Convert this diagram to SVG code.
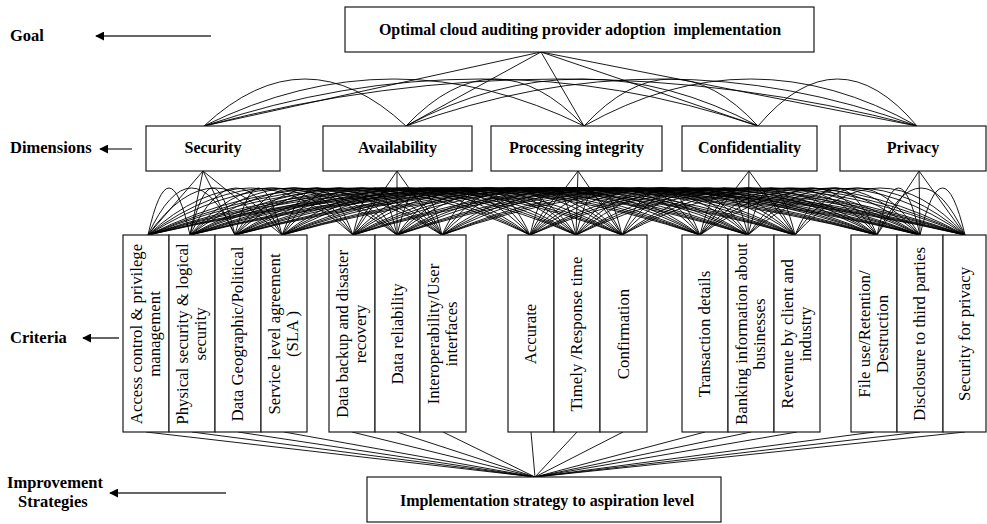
<svg xmlns="http://www.w3.org/2000/svg" width="987" height="524" viewBox="0 0 987 524">
<defs>
<style>
.box{fill:#fff;stroke:#1a1a1a;stroke-width:1.2}
.ln{fill:none;stroke:#000;stroke-width:0.9}
.ar{fill:none;stroke:#333;stroke-width:1.3}
.lbl{font-family:"Liberation Serif",serif;font-weight:bold;font-size:16.5px;fill:#000}
.hd{font-family:"Liberation Serif",serif;font-weight:bold;font-size:16px;fill:#000;text-anchor:middle}
.cr{font-family:"Liberation Serif",serif;font-size:16.8px;fill:#000;text-anchor:middle}
</style>
<marker id="ah" viewBox="0 0 10 10" refX="9" refY="5" markerWidth="9" markerHeight="9" markerUnits="userSpaceOnUse" orient="auto">
<path d="M0 0L10 5L0 10Z" fill="#000"/>
</marker>
</defs>

<g id="level-labels">
<text class="lbl" x="10" y="41">Goal</text>
<line class="ar" x1="211" y1="36" x2="96" y2="36" marker-end="url(#ah)"/>
<text class="lbl" x="10" y="153">Dimensions</text>
<line class="ar" x1="132" y1="149" x2="100" y2="149" marker-end="url(#ah)"/>
<text class="lbl" x="10" y="343">Criteria</text>
<line class="ar" x1="119" y1="338" x2="83" y2="338" marker-end="url(#ah)"/>
<text class="lbl" x="7" y="488">Improvement</text>
<text class="lbl" x="18" y="507">Strategies</text>
<line class="ar" x1="226" y1="493" x2="110" y2="493" marker-end="url(#ah)"/>
</g>

<g id="connectors">
<path class="ln" d="M541 52L204 126M541 52L406 126M541 52L584 126M541 52L758 126M541 52L917 126"/>
<path class="ln" d="M204 126q101 -94 202 0M204 126q190 -94 380 0M204 126q277 -94 554 0M204 126q356.5 -94 713 0M406 126q89 -94 178 0M406 126q176 -94 352 0M406 126q255.5 -94 511 0M584 126q87 -94 174 0M584 126q166.5 -94 333 0M758 126q79.5 -94 159 0"/>
<path class="ln" d="M203 171L148 235M203 171L190 235M203 171L235 235M203 171L282 235M397 171L353 235M397 171L397 235M397 171L442 235M578 171L530 235M578 171L576 235M578 171L622 235M749 171L700 235M749 171L748 235M749 171L795 235M919 171L877 235M919 171L920 235M919 171L965 235"/>
<path class="ln" d="M148 235q21 -94 42 0M148 235q43.5 -94 87 0M148 235q67 -94 134 0M148 235q102.5 -94 205 0M148 235q124.5 -94 249 0M148 235q147 -94 294 0M148 235q191 -94 382 0M148 235q214 -94 428 0M148 235q237 -94 474 0M148 235q276 -94 552 0M148 235q300 -94 600 0M148 235q323.5 -94 647 0M148 235q364.5 -94 729 0M148 235q386 -94 772 0M148 235q408.5 -94 817 0"/>
<path class="ln" d="M190 235q22.5 -94 45 0M190 235q46 -94 92 0M190 235q81.5 -94 163 0M190 235q103.5 -94 207 0M190 235q126 -94 252 0M190 235q170 -94 340 0M190 235q193 -94 386 0M190 235q216 -94 432 0M190 235q255 -94 510 0M190 235q279 -94 558 0M190 235q302.5 -94 605 0M190 235q343.5 -94 687 0M190 235q365 -94 730 0M190 235q387.5 -94 775 0"/>
<path class="ln" d="M235 235q23.5 -94 47 0M235 235q59 -94 118 0M235 235q81 -94 162 0M235 235q103.5 -94 207 0M235 235q147.5 -94 295 0M235 235q170.5 -94 341 0M235 235q193.5 -94 387 0M235 235q232.5 -94 465 0M235 235q256.5 -94 513 0M235 235q280 -94 560 0M235 235q321 -94 642 0M235 235q342.5 -94 685 0M235 235q365 -94 730 0"/>
<path class="ln" d="M282 235q35.5 -94 71 0M282 235q57.5 -94 115 0M282 235q80 -94 160 0M282 235q124 -94 248 0M282 235q147 -94 294 0M282 235q170 -94 340 0M282 235q209 -94 418 0M282 235q233 -94 466 0M282 235q256.5 -94 513 0M282 235q297.5 -94 595 0M282 235q319 -94 638 0M282 235q341.5 -94 683 0"/>
<path class="ln" d="M353 235q22 -94 44 0M353 235q44.5 -94 89 0M353 235q88.5 -94 177 0M353 235q111.5 -94 223 0M353 235q134.5 -94 269 0M353 235q173.5 -94 347 0M353 235q197.5 -94 395 0M353 235q221 -94 442 0M353 235q262 -94 524 0M353 235q283.5 -94 567 0M353 235q306 -94 612 0"/>
<path class="ln" d="M397 235q22.5 -94 45 0M397 235q66.5 -94 133 0M397 235q89.5 -94 179 0M397 235q112.5 -94 225 0M397 235q151.5 -94 303 0M397 235q175.5 -94 351 0M397 235q199 -94 398 0M397 235q240 -94 480 0M397 235q261.5 -94 523 0M397 235q284 -94 568 0"/>
<path class="ln" d="M442 235q44 -94 88 0M442 235q67 -94 134 0M442 235q90 -94 180 0M442 235q129 -94 258 0M442 235q153 -94 306 0M442 235q176.5 -94 353 0M442 235q217.5 -94 435 0M442 235q239 -94 478 0M442 235q261.5 -94 523 0"/>
<path class="ln" d="M530 235q23 -94 46 0M530 235q46 -94 92 0M530 235q85 -94 170 0M530 235q109 -94 218 0M530 235q132.5 -94 265 0M530 235q173.5 -94 347 0M530 235q195 -94 390 0M530 235q217.5 -94 435 0"/>
<path class="ln" d="M576 235q23 -94 46 0M576 235q62 -94 124 0M576 235q86 -94 172 0M576 235q109.5 -94 219 0M576 235q150.5 -94 301 0M576 235q172 -94 344 0M576 235q194.5 -94 389 0"/>
<path class="ln" d="M622 235q39 -94 78 0M622 235q63 -94 126 0M622 235q86.5 -94 173 0M622 235q127.5 -94 255 0M622 235q149 -94 298 0M622 235q171.5 -94 343 0"/>
<path class="ln" d="M700 235q24 -94 48 0M700 235q47.5 -94 95 0M700 235q88.5 -94 177 0M700 235q110 -94 220 0M700 235q132.5 -94 265 0"/>
<path class="ln" d="M748 235q23.5 -94 47 0M748 235q64.5 -94 129 0M748 235q86 -94 172 0M748 235q108.5 -94 217 0"/>
<path class="ln" d="M795 235q41 -94 82 0M795 235q62.5 -94 125 0M795 235q85 -94 170 0"/>
<path class="ln" d="M877 235q21.5 -94 43 0M877 235q44 -94 88 0M920 235q22.5 -94 45 0"/>
<path class="ln" d="M146 432L535 477M192 432L535 477M238 432L535 477M284 432L535 477M352 432L535 477M397 432L535 477M443 432L535 477M531 432L535 477M577 432L535 477M623 432L535 477M705 432L535 477M751 432L535 477M797 432L535 477M874 432L535 477M920 432L535 477M965 432L535 477"/>
</g>

<g id="goal">
<rect class="box" x="345" y="7" width="469" height="45"/>
<text class="hd" x="580" y="35" xml:space="preserve">Optimal cloud auditing provider adoption  implementation</text>
</g>

<g id="dim-security"><rect class="box" x="146" y="126" width="134" height="45"/><text class="hd" x="213" y="153">Security</text></g>
<g id="dim-availability"><rect class="box" x="323" y="126" width="149" height="45"/><text class="hd" x="397.5" y="153">Availability</text></g>
<g id="dim-processing"><rect class="box" x="491" y="126" width="171" height="45"/><text class="hd" x="576.5" y="153">Processing integrity</text></g>
<g id="dim-confidentiality"><rect class="box" x="682" y="126" width="135" height="45"/><text class="hd" x="749.5" y="153">Confidentiality</text></g>
<g id="dim-privacy"><rect class="box" x="840" y="126" width="146" height="45"/><text class="hd" x="913" y="153">Privacy</text></g>

<g id="c1"><rect class="box" x="123" y="235" width="46" height="197"/><text class="cr" transform="translate(146 334) rotate(-90)"><tspan x="0" y="-4">Access control &amp; privilege</tspan><tspan x="0" y="14">management</tspan></text></g>
<g id="c2"><rect class="box" x="169" y="235" width="46" height="197"/><text class="cr" transform="translate(192 334) rotate(-90)"><tspan x="0" y="-4">Physical security &amp; logical</tspan><tspan x="0" y="14">security</tspan></text></g>
<g id="c3"><rect class="box" x="215" y="235" width="46" height="197"/><text class="cr" transform="translate(238 334) rotate(-90)"><tspan x="0" y="5">Data Geographic/Political</tspan></text></g>
<g id="c4"><rect class="box" x="261" y="235" width="46" height="197"/><text class="cr" transform="translate(284 334) rotate(-90)"><tspan x="0" y="-4">Service level agreement</tspan><tspan x="0" y="14">(SLA )</tspan></text></g>

<g id="c5"><rect class="box" x="329" y="235" width="46" height="197"/><text class="cr" transform="translate(352 334) rotate(-90)"><tspan x="0" y="-4">Data backup and disaster</tspan><tspan x="0" y="14">recovery</tspan></text></g>
<g id="c6"><rect class="box" x="375" y="235" width="45" height="197"/><text class="cr" transform="translate(397.5 334) rotate(-90)"><tspan x="0" y="5">Data reliability</tspan></text></g>
<g id="c7"><rect class="box" x="420" y="235" width="46" height="197"/><text class="cr" transform="translate(443 334) rotate(-90)"><tspan x="0" y="-4">Interoperability/User</tspan><tspan x="0" y="14">interfaces</tspan></text></g>

<g id="c8"><rect class="box" x="508" y="235" width="46" height="197"/><text class="cr" transform="translate(531 334) rotate(-90)"><tspan x="0" y="5">Accurate</tspan></text></g>
<g id="c9"><rect class="box" x="554" y="235" width="46" height="197"/><text class="cr" transform="translate(577 334) rotate(-90)"><tspan x="0" y="5">Timely /Response time</tspan></text></g>
<g id="c10"><rect class="box" x="600" y="235" width="47" height="197"/><text class="cr" transform="translate(623.5 334) rotate(-90)"><tspan x="0" y="5">Confirmation</tspan></text></g>

<g id="c11"><rect class="box" x="682" y="235" width="46" height="197"/><text class="cr" transform="translate(705 334) rotate(-90)"><tspan x="0" y="5">Transaction details</tspan></text></g>
<g id="c12"><rect class="box" x="728" y="235" width="46" height="197"/><text class="cr" transform="translate(751 334) rotate(-90)"><tspan x="0" y="-4">Banking information about</tspan><tspan x="0" y="14">businesses</tspan></text></g>
<g id="c13"><rect class="box" x="774" y="235" width="46" height="197"/><text class="cr" transform="translate(797 334) rotate(-90)"><tspan x="0" y="-4">Revenue by client and</tspan><tspan x="0" y="14">industry</tspan></text></g>

<g id="c14"><rect class="box" x="851" y="235" width="46" height="197"/><text class="cr" transform="translate(874 334) rotate(-90)"><tspan x="0" y="-4">File use/Retention/</tspan><tspan x="0" y="14">Destruction</tspan></text></g>
<g id="c15"><rect class="box" x="897" y="235" width="46" height="197"/><text class="cr" transform="translate(920 334) rotate(-90)"><tspan x="0" y="5">Disclosure to third parties</tspan></text></g>
<g id="c16"><rect class="box" x="943" y="235" width="43" height="197"/><text class="cr" transform="translate(965 334) rotate(-90)"><tspan x="0" y="5">Security for privacy</tspan></text></g>

<g id="strategy">
<rect class="box" x="367" y="477" width="354" height="45"/>
<text class="hd" x="547" y="506">Implementation strategy to aspiration level</text>
</g>
</svg>
